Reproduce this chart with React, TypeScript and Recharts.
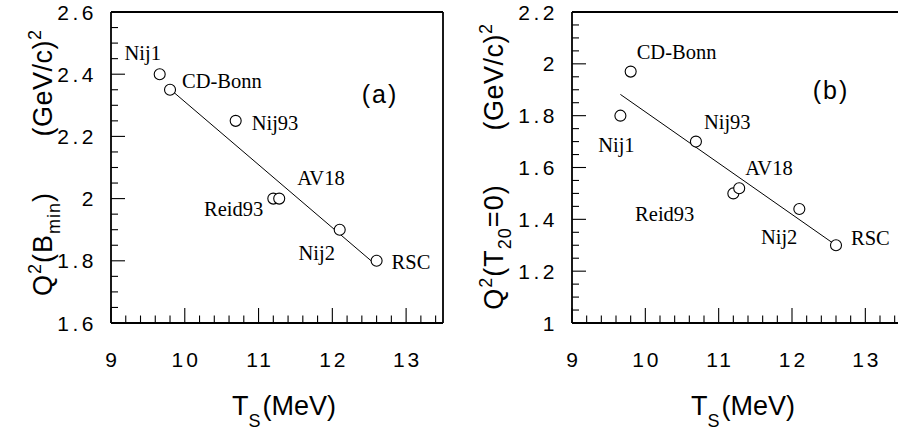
import React from 'react';
import { ScatterChart, Scatter, XAxis, YAxis } from 'recharts';

// deuteron potential models, in the order they appear
const models = ['Nij1', 'CD-Bonn', 'Nij93', 'Reid93', 'AV18', 'Nij2', 'RSC'];
const tsMeV = [9.66, 9.8, 10.69, 11.2, 11.28, 12.1, 12.6];
const q2Bmin = [2.4, 2.35, 2.25, 2.0, 2.0, 1.9, 1.8];
const q2T20 = [1.8, 1.97, 1.7, 1.5, 1.52, 1.44, 1.3];

// straight-line fits
const fitTsA = [9.8, 12.6];
const fitQ2A = [2.352, 1.785];
const fitTsB = [9.66, 12.6];
const fitQ2B = [1.882, 1.3];

const xTickLabels = [9, 10, 11, 12, 13];
const yTickLabelsA = [1.6, 1.8, 2, 2.2, 2.4, 2.6];
const yTickLabelsB = [1, 1.2, 1.4, 1.6, 1.8, 2, 2.2];

const steps = (lo: number, hi: number, step: number) => {
  const out: number[] = [];
  const n = Math.round((hi - lo) / step);
  for (let i = 0; i <= n; i++) out.push(+(lo + i * step).toFixed(4));
  return out;
};
const xTicks = steps(9, 13.4, 0.2);
const yTicksA = steps(1.6, 2.6, 0.05);
const yTicksB = steps(1, 2.2, 0.05);

const SANS = "'Liberation Sans', Arial, Helvetica, sans-serif";
const SERIF = "'Liberation Serif', 'Times New Roman', serif";

// label placement around each circle: [anchor, dx, dy]
const labelPosA: Record<string, [string, number, number]> = {
  Nij1: ['middle', -17, -14],
  'CD-Bonn': ['start', 12, -2],
  Nij93: ['start', 16, 9],
  Reid93: ['end', -10, 17],
  AV18: ['start', 18, -14],
  Nij2: ['middle', -23, 30],
  RSC: ['start', 15, 8],
};
const labelPosB: Record<string, [string, number, number]> = {
  Nij1: ['middle', -4, 36],
  'CD-Bonn': ['start', 6, -13],
  Nij93: ['start', 8, -13],
  Reid93: ['end', -39, 28],
  AV18: ['start', 6, -13],
  Nij2: ['end', -2, 35],
  RSC: ['start', 15, 0],
};

const findLabel = (v: number, labels: number[]) => labels.find(l => Math.abs(l - v) < 1e-6);

const makeTick = (side: 'bottom' | 'top' | 'left' | 'right', labels: number[]) => (props: any) => {
  const { x, y, payload } = props;
  const lab = findLabel(payload.value, labels);
  const major = lab !== undefined;
  const horiz = side === 'bottom' || side === 'top';
  const len = horiz ? (major ? 15 : 7.5) : (major ? 14 : 7);
  let x2 = x, y2 = y;
  if (side === 'bottom') y2 = y - len;
  if (side === 'top') y2 = y + len;
  if (side === 'left') x2 = x + len;
  if (side === 'right') x2 = x - len;
  return (
    <g>
      <line x1={x} y1={y} x2={x2} y2={y2} stroke="#000" strokeWidth={1.1} />
      {major && side === 'bottom' && (
        <text x={x + 1.5} y={y + 44} textAnchor="middle" fontFamily={SANS} fontSize={21} letterSpacing={3} fill="#000">
          {String(lab)}
        </text>
      )}
      {major && side === 'left' && (
        <text x={x - 14} y={y + 7.5} textAnchor="end" fontFamily={SANS} fontSize={21} letterSpacing={3.5} fill="#000">
          {String(lab)}
        </text>
      )}
    </g>
  );
};

const makeShape = (pos: Record<string, [string, number, number]>) => (props: any) => {
  const { cx, cy, payload } = props;
  const [anchor, dx, dy] = pos[payload.name];
  return (
    <g>
      <circle cx={cx} cy={cy} r={5.5} fill="#fff" stroke="#000" strokeWidth={1.1} />
      <text x={cx + dx} y={cy + dy} textAnchor={anchor as any} fontFamily={SERIF} fontSize={20.5} fill="#000">
        {payload.name}
      </text>
    </g>
  );
};

const noShape = () => <g />;

const axisLine = { stroke: '#000', strokeWidth: 1.8 };

interface PanelProps {
  width: number;
  left: number;
  right: number;
  yValues: number[];
  fitX: number[];
  fitY: number[];
  yDomain: [number, number];
  yTicks: number[];
  yLabels: number[];
  pos: Record<string, [string, number, number]>;
  children?: React.ReactNode;
}

// axes get a 1px band each (Recharts skips zero-size axes), margins take the rest
function Panel({ width, left, right, yValues, fitX, fitY, yDomain, yTicks, yLabels, pos, children }: PanelProps) {
  const points = models.map((name, i) => ({ name, x: tsMeV[i], y: yValues[i] }));
  const fit = fitX.map((x, i) => ({ name: 'fit', x, y: fitY[i] }));
  return (
    <ScatterChart width={width} height={430} margin={{ top: 11, right: right - 1, bottom: 106, left: left - 1 }}>
      <XAxis type="number" dataKey="x" domain={[9, 13.5]} ticks={xTicks} interval={0} height={1}
        tickSize={0} tickMargin={0} tickLine={false} axisLine={axisLine} tick={makeTick('bottom', xTickLabels)} />
      <XAxis xAxisId="top" orientation="top" type="number" dataKey="x" domain={[9, 13.5]} ticks={xTicks} interval={0}
        height={1} tickSize={0} tickMargin={0} tickLine={false} axisLine={axisLine} tick={makeTick('top', xTickLabels)} />
      <YAxis type="number" dataKey="y" domain={yDomain} ticks={yTicks} interval={0} width={1}
        tickSize={0} tickMargin={0} tickLine={false} axisLine={axisLine} tick={makeTick('left', yLabels)} />
      <YAxis yAxisId="right" orientation="right" type="number" dataKey="y" domain={yDomain} ticks={yTicks} interval={0}
        width={1} tickSize={0} tickMargin={0} tickLine={false} axisLine={axisLine} tick={makeTick('right', yLabels)} />
      <Scatter data={fit} line={{ stroke: '#000', strokeWidth: 1 }} shape={noShape} isAnimationActive={false} />
      <Scatter data={points} shape={makeShape(pos)} isAnimationActive={false} />
      {children}
    </ScatterChart>
  );
}

const titleStyle = { fontFamily: SANS, fontSize: 27, fill: '#000' };

function XTitle({ x }: { x: number }) {
  return (
    <text x={x} y={415} {...titleStyle}>
      T
      <tspan dy={12} fontSize={18}>S</tspan>
      <tspan dy={-12} dx={2}>(MeV)</tspan>
    </text>
  );
}

function GevTitle({ x, cy }: { x: number; cy: number }) {
  return (
    <text x={x} y={cy} transform={`rotate(-90, ${x}, ${cy})`} textAnchor="middle" {...titleStyle} letterSpacing={0.5}>
      (GeV/c)
      <tspan dy={-11} fontSize={18}>2</tspan>
    </text>
  );
}

export default function App() {
  return (
    <div style={{ position: 'absolute', left: 0, top: 0, width: 898, height: 430, overflow: 'hidden', background: '#fff' }}>
      <div style={{ position: 'absolute', left: 0, top: 0 }}>
        <Panel width={449} left={111} right={6} yValues={q2Bmin} fitX={fitTsA} fitY={fitQ2A}
          yDomain={[1.6, 2.6]} yTicks={yTicksA} yLabels={yTickLabelsA} pos={labelPosA}>
          <GevTitle x={52} cy={83} />
          <text x={52} y={244} transform="rotate(-90, 52, 244)" textAnchor="middle" {...titleStyle} letterSpacing={1}>
            Q
            <tspan dy={-11} fontSize={18}>2</tspan>
            <tspan dy={11}>(B</tspan>
            <tspan dy={8} fontSize={18}>min</tspan>
            <tspan dy={-8}>)</tspan>
          </text>
          <XTitle x={232} />
          <text x={380} y={103} textAnchor="middle" fontFamily={SANS} fontSize={25} letterSpacing={2} fill="#000">(a)</text>
        </Panel>
      </div>
      <div style={{ position: 'absolute', left: 448, top: 0 }}>
        <Panel width={460} left={124} right={6} yValues={q2T20} fitX={fitTsB} fitY={fitQ2B}
          yDomain={[1, 2.2]} yTicks={yTicksB} yLabels={yTickLabelsB} pos={labelPosB}>
          <GevTitle x={55} cy={77} />
          <text x={55} y={247} transform="rotate(-90, 55, 247)" textAnchor="middle" {...titleStyle} letterSpacing={1}>
            Q
            <tspan dy={-11} fontSize={18}>2</tspan>
            <tspan dy={11}>(T</tspan>
            <tspan dy={8} fontSize={18}>20</tspan>
            <tspan dy={-8}>=0)</tspan>
          </text>
          <XTitle x={243} />
          <text x={383} y={99} textAnchor="middle" fontFamily={SANS} fontSize={25} letterSpacing={2} fill="#000">(b)</text>
        </Panel>
      </div>
    </div>
  );
}
